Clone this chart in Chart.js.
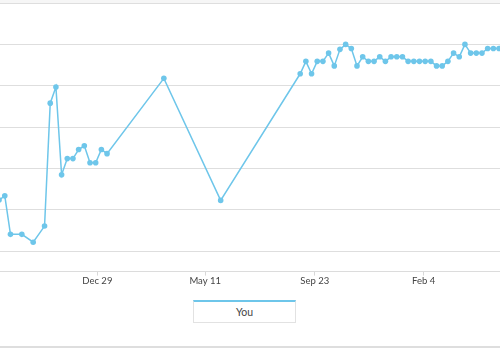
<!DOCTYPE html>
<html>
<head>
<meta charset="utf-8">
<script src="https://cdn.jsdelivr.net/npm/chart.js@4/dist/chart.umd.min.js"></script>
<style>
  body { margin: 0; width: 500px; height: 350px; background: #fff; overflow: hidden; position: relative; font-family: Lato, sans-serif; }
  #topBand { position: absolute; left: 0; top: 0; width: 500px; height: 3px; background: #f6f6f6; }
  #chartBox { position: absolute; left: 0; top: 0; width: 500px; height: 287px; }
  #legend { position: absolute; left: 193px; top: 300px; width: 101px; height: 20px; border: 1px solid #e2e2e2; border-top: 2px solid #6ec6ea; text-align: center; line-height: 21px; font-size: 10.5px; color: #444; }
  #bottomLine { position: absolute; left: 0; top: 346px; width: 500px; height: 2px; background: #dedede; }
</style>
</head>
<body>
<div id="chartBox"><canvas id="chartCanvas"></canvas></div>
<div id="topBand"></div>
<div id="legend"></div>
<div id="bottomLine"></div>
<script>
// days counted from Dec 29
const days = [-121, -114, -107, -93, -79, -65, -58, -51, -44, -37, -30, -23, -16, -9, -2, 5, 12,
  82, 152, 250, 257, 264, 271, 278, 285, 292, 299, 306, 313, 320, 327, 334, 341, 348, 355, 362,
  369, 376, 383, 390, 397, 404, 411, 418, 425, 432, 439, 446, 453, 460, 467, 474, 481, 488, 495, 502];
const youValues = [12.4, 13.4, 4.1, 4.1, 2.2, 6.1, 35.8, 39.7, 18.5, 22.4, 22.4, 24.6, 25.5, 21.4, 21.4, 24.6, 23.6,
  41.8, 12.3, 42.9, 45.9, 42.9, 45.9, 45.9, 47.9, 44.8, 48.8, 50.0, 49.0, 44.8, 47.0, 45.9, 45.9, 47.0, 45.9, 47.0,
  47.0, 47.0, 45.9, 45.9, 45.9, 45.9, 45.9, 44.8, 44.8, 45.9, 47.9, 47.0, 50.0, 47.9, 47.9, 47.9, 49.0, 49.0, 49.0, 49.0];
const tickDays = [0, 133, 268, 402];
const tickLabels = ["Dec 29", "May 11", "Sep 23", "Feb 4"];
const gridValues = [0, 10, 20, 30, 40, 50, 60];
const seriesLabel = "You";
const lineColor = "#6ec6ea";

function buildPoints() {
  return days.map((d, i) => ({ x: d, y: youValues[i] }));
}

function plotGraph() {
  const ctx = document.getElementById("chartCanvas").getContext("2d");

  window.myChart = new Chart(ctx, {
    type: "line",
    data: {
      datasets: [
        {
          label: seriesLabel,
          data: buildPoints(),
          borderColor: lineColor,
          backgroundColor: lineColor,
          borderWidth: 1.5,
          pointRadius: 2.8,
          pointBorderWidth: 0,
          pointBackgroundColor: lineColor,
          tension: 0,
          fill: false,
          clip: false,
        },
      ],
    },
    options: {
      responsive: true,
      maintainAspectRatio: false,
      animation: false,
      layout: { autoPadding: false, padding: { top: 3, left: 0, right: 0, bottom: 0 } },
      plugins: { legend: { display: false }, tooltip: { enabled: false } },
      scales: {
        x: {
          type: "linear",
          min: -119.9,
          max: 496.2,
          afterBuildTicks: (axis) => {
            axis.ticks = tickDays.map((v) => ({ value: v }));
          },
          ticks: {
            autoSkip: false,
            maxRotation: 0,
            padding: 0,
            color: "#444",
            font: { family: "Lato", size: 9.5 },
            callback: (value) => {
              const i = tickDays.indexOf(value);
              return i >= 0 ? tickLabels[i] : "";
            },
          },
          grid: { drawOnChartArea: false, tickLength: 4, color: "#d8d8d8" },
          border: { color: "#dcdcdc" },
        },
        y: {
          min: -4.9,
          max: 60,
          afterBuildTicks: (axis) => {
            axis.ticks = gridValues.map((v) => ({ value: v }));
          },
          ticks: { display: false },
          grid: { drawTicks: false, color: "#dedede" },
          border: { display: false },
        },
      },
    },
  });
}

plotGraph();
document.getElementById("legend").textContent = seriesLabel;
</script>
</body>
</html>
